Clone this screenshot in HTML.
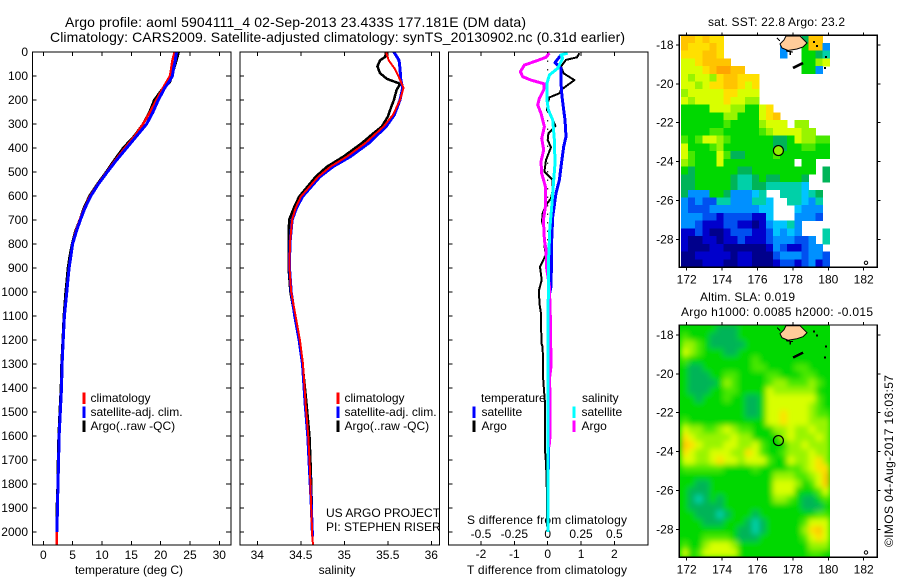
<!DOCTYPE html>
<html>
<head>
<meta charset="utf-8">
<title>Argo profile</title>
<style>
html,body{margin:0;padding:0;background:#fff}
svg{display:block}
text{font-family:"Liberation Sans",sans-serif;font-size:12px;fill:#000}
</style>
</head>
<body>
<svg id="chart" xmlns="http://www.w3.org/2000/svg" width="900" height="580" viewBox="0 0 900 580">
<defs>
<filter id="smooth" x="-5%" y="-5%" width="110%" height="110%"><feGaussianBlur stdDeviation="3"/></filter>
<clipPath id="slaClip"><rect x="680" y="325" width="150" height="232.3"/></clipPath>
</defs>
<text x="65" y="27" style="font-size:14px" textLength="461">Argo profile: aoml 5904111_4 02-Sep-2013 23.433S 177.181E (DM data)</text>
<text x="50" y="42" style="font-size:14px" textLength="575">Climatology: CARS2009. Satellite-adjusted climatology: synTS_20130902.nc (0.31d earlier)</text>
<text x="129" y="574" text-anchor="middle">temperature (deg C)</text>
<text x="337" y="574" text-anchor="middle">salinity</text>
<text x="467" y="524" textLength="160">S difference from climatology</text>
<text x="467" y="574" textLength="160">T difference from climatology</text>
<text x="326" y="517">US ARGO PROJECT</text>
<text x="326" y="531">PI: STEPHEN RISER</text>
<text x="708" y="26" textLength="137">sat. SST: 22.8 Argo: 23.2</text>
<text x="700" y="301" textLength="95">Altim. SLA: 0.019</text>
<text x="681" y="316" textLength="192">Argo h1000: 0.0085 h2000: -0.015</text>
<text transform="translate(893,547) rotate(-90)" textLength="172">©IMOS 04-Aug-2017 16:03:57</text>
<g id="layer"></g>
</svg>
<script>
// ---- profile data ----
const climDepth = [0,35,70,100,125,150,200,250,300,350,400,450,500,550,600,650,700,750,800,850,900,950,1000,1100,1200,1300,1400,1500,1600,1700,1800,1900,2000,2054];
const climTemp  = [22.4,22.0,21.8,21.6,21.0,20.4,19.3,18.2,17.0,15.6,13.9,12.3,10.8,9.3,8.0,7.0,6.2,5.5,5.0,4.7,4.4,4.2,4.0,3.6,3.4,3.2,3.1,2.9,2.7,2.6,2.5,2.4,2.33,2.3];
const satTemp   = [22.7,22.5,22.2,22.0,21.4,20.7,19.6,18.7,17.6,15.9,14.2,12.5,10.9,9.4,8.1,7.1,6.3,5.6,5.0,4.7,4.4,4.2,4.0,3.6,3.4,3.2,3.1,2.9,2.7,2.6,2.5,2.4,2.33];
const argoDepth = [0,35,100,125,150,200,250,300,350,400,450,500,550,600,650,700,750,800,850,900,950,1000,1100,1200,1300,1400,1500,1600,1700,1800,1900,2000];
const argoTemp  = [23.1,22.7,21.9,21.6,20.4,18.9,18.1,17.0,15.5,13.6,12.1,10.7,9.2,7.85,6.9,6.2,5.4,4.9,4.5,4.2,4.0,3.8,3.5,3.3,3.1,3.0,2.8,2.6,2.5,2.45,2.3,2.3];

const salClimDepth = [0,35,70,115,150,200,262,311,380,436,478,520,603,650,700,800,900,1000,1100,1200,1300,1464,1603,1742,1880,2019,2054];
const climSal = [35.48,35.51,35.58,35.64,35.68,35.64,35.56,35.45,35.24,35.03,34.84,34.70,34.50,34.44,34.40,34.375,34.37,34.39,34.44,34.49,34.525,34.555,34.586,34.606,34.617,34.632,34.64];
const satSal  = [35.57,35.63,35.64,35.65,35.67,35.64,35.575,35.48,35.28,35.07,34.87,34.72,34.52,34.45,34.40,34.375,34.37,34.39,34.43,34.48,34.52,34.55,34.58,34.60,34.62,34.635];
const salArgoDepth = [0,20,35,60,88,112,132,160,200,228,270,311,340,380,436,478,520,603,650,700,800,900,1000,1100,1200,1300,1464,1603,1742,1880,2000];
const argoSal = [35.48,35.47,35.41,35.38,35.41,35.49,35.64,35.60,35.57,35.54,35.50,35.43,35.33,35.20,34.99,34.80,34.67,34.48,34.42,34.365,34.36,34.36,34.38,34.43,34.48,34.52,34.565,34.60,34.615,34.625,34.63];

// ---- difference panel data ----
const tDiffArgoDepth = [5,22,33,61,89,117,158,172,189,214,242,262,308,339,367,397,450,499,533,575,610,638,672,707,742,804,846,895,950,992,1047,1089,1214,1228,1353,1409,1464,1659,1714,1756,1853,1978];
const tDiffArgo = [.95,.88,.55,.4,.48,.8,.4,.35,.05,0,-.02,.1,.23,.02,0,.1,-.05,-.1,.15,.15,.1,-.05,-.15,-.17,-.1,-.1,-.06,-.23,-.18,-.26,-.25,-.2,-.19,-.15,-.14,-.11,-.08,-.08,-.05,-.04,-.02,-.02];
const tDiffSatDepth = [12,44,68,130,186,242,283,353,394,478,533,589,686,783,825,978,1020,1300,2000];
const tDiffSat = [.4,.22,.4,.4,.43,.48,.52,.55,.48,.4,.35,.25,.15,.12,.12,.1,.04,.03,.01];
const sDiffSatDepth = [5,12,26,68,96,130,200,242,283,367,464,533,644,742,783,880,1300,2000];
const sDiffSat = [.15,.1,.1125,.075,.0125,-.005,-.005,.005,.0375,.05,.055,.045,.03,.015,.0125,.005,.002,.002];
const sDiffArgoDepth = [5,22,40,54,82,103,117,133,158,193,221,256,311,360,408,457,506,561,644,700,783,825,902,978,1117,1311,1353,1603,1645];
const sDiffArgo = [.0125,-.0125,-.1,-.175,-.205,-.1875,-.125,-.025,-.03,-.0625,-.075,-.05,-.025,-.045,-.03,-.05,-.045,-.0175,-.0175,-.0325,-.025,-.0125,-.0075,.0125,.02,.025,.015,.0175,.01];

// ---- tick labels ----
const depthTicks = [0,100,200,300,400,500,600,700,800,900,1000,1100,1200,1300,1400,1500,1600,1700,1800,1900,2000];
const tempTicks = [0,5,10,15,20,25,30];
const salTicks = [34,34.5,35,35.5,36];
const tDiffTicks = [-2,-1,0,1,2];
const tDiffTickLabels = ['-2','-1','0','1','2'];
const sDiffTickLabels = ['-0.5','-0.25','0','0.25','0.5'];
const lonTicks = [172,174,176,178,180,182];
const latTicks = [-18,-20,-22,-24,-26,-28];

// ---- float position ----
const floatLon = 177.181;
const floatLat = -23.433;

// ---- map grids: one char per 0.4 degree cell, level code, '.' = no data ----
const sstRows = [
"CCBCBB...........6CC.",
"CBBBCB........3..7CC3",
"BBBCCB........3..7765",
"AABCCCC..........779A",
"AAABCDDCC........773.",
"A9AA9BCCBBB..........",
"AA9ABBCCBAB..........",
"9AAAAABBAAA..........",
"A9AAAABAA99..........",
"7777AAA9977AB........",
"77777799777ABC.......",
"777777877779AAA.99...",
"7777887777789AAAA99..",
"878AA98777777667A9988",
"A77789777777766778877",
"A8777A866777787777777",
"98777A7777777777.77..",
"7677777766777777777.6",
"667777765567667776..6",
"667777765566555554...",
"633377633345..555456.",
"3232255333554..55435.",
"3222333333344...4333.",
"3332212222114...3332.",
"33211122110134453....",
"11210012221124343...5",
"1001101121112333223.5",
"10001100000013211233.",
"001111101100023332332",
"000111001100012212312"
];
const slaRows = [
"777776667777777777777",
"877766667777777777777",
"998766666777777777777",
"A98777667777777777777",
"877777777787777777777",
"766777777788777788777",
"766677887777887778877",
"766667987777899888987",
"766677887777A99999977",
"776777877667AAAAAAA87",
"777777777667AAAAAA987",
"777777777667AABAAA988",
"877777777777AABAAA999",
"A99889A98877799A99A99",
"BA99999A9977779A999A9",
"CBA999AA99A877799A999",
"BA99AAA99BA8778999A99",
"AA99ABAA9AAA877A99AB9",
"888888777787777889ABB",
"7777777777777999889AC",
"7766777777777AAA978AC",
"7666777777777AAA7778A",
"765676777777799876678",
"766666777777777776667",
"776665677767777777788",
"777666777656777778AAA",
"777777776656777779BCA",
"777888876667777778ABA",
"8779AAA97777777777999",
"A78AAAAA7777777777887"
];
const levelColors = {'0':'#00008c','1':'#0000cc','2':'#0050f0','3':'#0090ff','4':'#00c4ff','5':'#00d0a8','6':'#00b458','7':'#00d800','8':'#48e800','9':'#98f400','A':'#d8ff00','B':'#ffe000','C':'#ffc400','D':'#ffa400'};

// ---- scales ----
const yD = d => 52 + 0.24 * d;
const xTemp = t => 43.3 + 5.867 * t;
const xSal = s => 257.3 + 87 * (s - 34);
const xDT = t => 547.7 + 33.35 * t;
const xDS = s => 547.7 + 133.4 * s;
const xLon = l => 686.7 + 17.7 * (l - 172);
const yLat1 = l => 45 + 19.43 * (-18 - l);
const yLat2 = l => 335 + 19.43 * (-18 - l);

const NS = 'http://www.w3.org/2000/svg';
const layer = document.getElementById('layer');
function mk(tag, attrs, parent) {
  const e = document.createElementNS(NS, tag);
  for (const k in attrs) e.setAttribute(k, attrs[k]);
  (parent || layer).appendChild(e);
  return e;
}
function label(parent, x, y, s, anchor) {
  const t = mk('text', {x: x, y: y, 'text-anchor': anchor || 'middle'}, parent);
  t.textContent = s;
  
  
  return t;
}
function group(name) {
  const g = mk('g', {});
  
  
  return g;
}
function line(parent, x1, y1, x2, y2, w, color) {
  const l = mk('line', {x1: x1, y1: y1, x2: x2, y2: y2, stroke: color || '#000', 'stroke-width': w || 1, 'shape-rendering': 'crispEdges'}, parent);
  return l;
}
function frame(name, x0, y0, x1, y1) {
  const r = mk('rect', {x: x0, y: y0, width: x1 - x0, height: y1 - y0, fill: 'none', stroke: '#000', 'stroke-width': 1.3, 'shape-rendering': 'crispEdges'});
  
  
}
function series(name, xs, depths, xf, color, w) {
  const pts = [];
  const n = Math.min(xs.length, depths.length);
  for (let i = 0; i < n; i++) pts.push(xf(xs[i]).toFixed(1) + ',' + yD(depths[i]).toFixed(1));
  const p = mk('polyline', {points: pts.join(' '), fill: 'none', stroke: color, 'stroke-width': w, 'stroke-linejoin': 'round', 'shape-rendering': 'crispEdges'});
  
  
}
function legend(name, x, tx, y, color, s) {
  const g = group(name);
  mk('rect', {x: x - 1.5, y: y - 9.5, width: 3, height: 11.5, fill: color, 'shape-rendering': 'crispEdges'}, g);
  const t = mk('text', {x: tx, y: y}, g);
  t.textContent = s;
}

// ---- profile panels ----
const P = [[32.5,231],[240,439.5],[448.5,648]];
P.forEach((p, i) => {
  const g = group('panel-' + (i + 1) + '-ticks');
  depthTicks.forEach(d => {
    line(g, p[0], yD(d), p[0] + 4, yD(d));
    if (i === 0) {
      line(g, p[1] - 5, yD(d), p[1], yD(d));
      label(g, 28, yD(d) + 4, String(d), 'end');
    }
  });
});
const g1 = group('temperature-x-axis');
tempTicks.forEach(t => { line(g1, xTemp(t), 52, xTemp(t), 56); line(g1, xTemp(t), 541, xTemp(t), 545); label(g1, xTemp(t), 559, String(t)); });
const g2 = group('salinity-x-axis');
salTicks.forEach(s => { line(g2, xSal(s), 52, xSal(s), 56); line(g2, xSal(s), 541, xSal(s), 545); label(g2, xSal(s), 559, String(s)); });
const g3 = group('difference-x-axis');
tDiffTicks.forEach((t, i) => {
  line(g3, xDT(t), 52, xDT(t), 56);
  line(g3, xDT(t), 541, xDT(t), 545);
  label(g3, xDT(t), 558, tDiffTickLabels[i]);
  label(g3, xDT(t), 538, sDiffTickLabels[i]);
});
const zero = mk('line', {x1: xDT(0), y1: 52, x2: xDT(0), y2: 545, stroke: '#000', 'stroke-width': 1, 'stroke-dasharray': '1.5 7'});



series('argo-temperature', argoTemp, argoDepth, xTemp, '#000', 2.5);
series('climatology-temperature', climTemp, climDepth, xTemp, '#f00', 2.5);
series('satellite-temperature', satTemp, climDepth, xTemp, '#00f', 3);

series('argo-salinity', argoSal, salArgoDepth, xSal, '#000', 2.5);
series('satellite-salinity', satSal, salClimDepth, xSal, '#00f', 3);
series('climatology-salinity', climSal, salClimDepth, xSal, '#f00', 2);

series('argo-t-difference', tDiffArgo, tDiffArgoDepth, xDT, '#000', 2);
series('satellite-t-difference', tDiffSat, tDiffSatDepth, xDT, '#00f', 3);
series('argo-s-difference', sDiffArgo, sDiffArgoDepth, xDS, '#f0f', 3);
series('satellite-s-difference', sDiffSat, sDiffSatDepth, xDS, '#0ff', 3);

frame('temperature-panel-frame', P[0][0], 52, P[0][1], 545);
frame('salinity-panel-frame', P[1][0], 52, P[1][1], 545);
frame('difference-panel-frame', P[2][0], 52, P[2][1], 545);

legend('legend-climatology', 84, 90.5, 402, '#f00', 'climatology');
legend('legend-satellite', 84, 90.5, 416, '#00f', 'satellite-adj. clim.');
legend('legend-argo', 84, 90.5, 430, '#000', 'Argo(..raw -QC)');
legend('legend-climatology-sal', 338, 344.5, 402, '#f00', 'climatology');
legend('legend-satellite-sal', 338, 344.5, 416, '#00f', 'satellite-adj. clim.');
legend('legend-argo-sal', 338, 344.5, 430, '#000', 'Argo(..raw -QC)');
const lt = mk('text', {x: 481, y: 402}, group('legend-temperature-heading')); lt.textContent = 'temperature';
const ls = mk('text', {x: 582, y: 402}, group('legend-salinity-heading')); ls.textContent = 'salinity';
legend('legend-t-satellite', 474, 481.5, 416, '#00f', 'satellite');
legend('legend-t-argo', 474, 481.5, 430, '#000', 'Argo');
legend('legend-s-satellite', 574, 581.5, 416, '#0ff', 'satellite');
legend('legend-s-argo', 574, 581.5, 430, '#f0f', 'Argo');

// ---- maps ----
const cellLon = 0.4, cellLat = 0.398, lon0 = 171.68, lat0 = -17.49;
function drawMap(name, rows, yLat, top, bottom, fillCircle, smooth) {
  const g = group(name);
  let cellParent = g;
  if (smooth) {
    const clip = mk('g', {'clip-path': 'url(#slaClip)'}, g);
    mk('rect', {x: 680, y: top, width: 150, height: bottom - top, fill: levelColors['7']}, clip);
    cellParent = mk('g', {filter: 'url(#smooth)'}, clip);
  }
  rows.forEach((row, j) => {
    for (let i = 0; i < row.length; i++) {
      const c = levelColors[row[i]];
      if (!c) continue;
      const x = xLon(lon0 + i * cellLon), y = yLat(lat0 - j * cellLat);
      const r = mk('rect', {x: x.toFixed(1), y: y.toFixed(1), width: (17.7 * cellLon + .4).toFixed(1), height: (19.43 * cellLat + .4).toFixed(1), fill: c, 'shape-rendering': 'crispEdges'}, cellParent);
      
      
    }
  });
  const off = top - 35.3;
  const land = mk('polygon', {points: [[780,44],[784,40],[786,36],[800,36],[804,40],[807,43],[803,47],[797,49],[788,50.5],[782,48]].map(p => p[0] + ',' + (p[1] + off)).join(' '), fill: '#ffcc99', stroke: '#000', 'stroke-width': 1}, g);
  
  
  [[793,68,803,63,2.5],[777,38,780,41,1],[790,52,790,55,1.5],[813,42,815,42,2],[816,46,818,46,2],[825,57,827,57,2],[824,68,826,68,2],[786,51,793,52,1]].forEach(s => {
    line(g, s[0], s[1] + off, s[2], s[3] + off, s[4]);
  });
  frame(name + '-frame', 679.3, top, 877.3, bottom);
  lonTicks.forEach(l => {
    line(g, xLon(l), top - 3, xLon(l), top);
    line(g, xLon(l), bottom, xLon(l), bottom + 3);
    label(g, xLon(l), bottom + 16, String(l));
  });
  latTicks.forEach(l => {
    line(g, 676, yLat(l), 679.3, yLat(l));
    line(g, 877.3, yLat(l), 880.5, yLat(l));
    label(g, 673.5, yLat(l) + 4, String(l), 'end');
  });
  const c = mk('circle', {cx: xLon(floatLon), cy: yLat(floatLat), r: 5, fill: fillCircle, stroke: '#000', 'stroke-width': 1.2});
  
  
  const o = mk('circle', {cx: 866, cy: top + 227.5, r: 1.7, fill: 'none', stroke: '#000', 'stroke-width': 1});
  
  
}
drawMap('sst-map', sstRows, yLat1, 35.3, 267.3, '#90f000', false);
drawMap('sla-map', slaRows, yLat2, 325, 557.3, 'none', true);
</script>
</body>
</html>
